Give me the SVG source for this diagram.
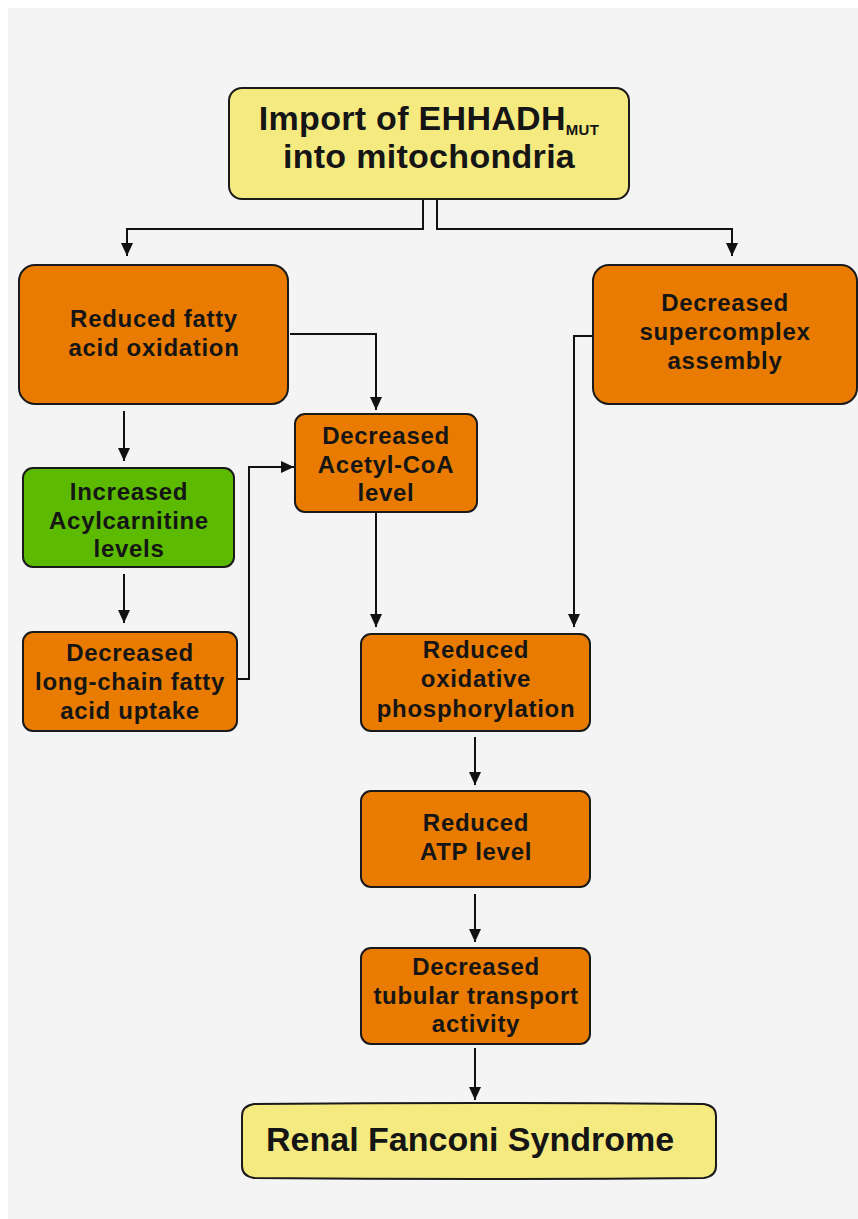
<svg xmlns="http://www.w3.org/2000/svg" width="858" height="1219" viewBox="0 0 858 1219">
<defs>
<marker id="ah" markerUnits="userSpaceOnUse" markerWidth="14" markerHeight="12" refX="13" refY="6" orient="auto">
<path d="M0,0 L13,6 L0,12 z" fill="#111"/>
</marker>
<style>
.bx{stroke:#1a1a1a;stroke-width:2}
.or{fill:#e97c00}
.gr{fill:#5cba00}
.ye{fill:#f5ea80}
.t{font-family:"Liberation Sans",Arial,sans-serif;font-weight:bold;fill:#151515;text-anchor:middle}
.m{font-size:24px;letter-spacing:0.7px}
.c{fill:none;stroke:#111;stroke-width:2}
</style>
</defs>
<rect width="858" height="1219" fill="#ffffff"/>
<rect x="8" y="8" width="850" height="1211" fill="#f4f4f4"/>

<g id="connectors">
<path class="c" d="M423,199 V229 H127 V256" marker-end="url(#ah)"/>
<path class="c" d="M437,199 V229 H732 V256" marker-end="url(#ah)"/>
<path class="c" d="M124,411 V461" marker-end="url(#ah)"/>
<path class="c" d="M290,334 H376 V410" marker-end="url(#ah)"/>
<path class="c" d="M124,574 V623" marker-end="url(#ah)"/>
<path class="c" d="M237,679 H249 V467 H294" marker-end="url(#ah)"/>
<path class="c" d="M376,512 V627" marker-end="url(#ah)"/>
<path class="c" d="M593,336 H574 V627" marker-end="url(#ah)"/>
<path class="c" d="M475,737 V785" marker-end="url(#ah)"/>
<path class="c" d="M475,894 V942" marker-end="url(#ah)"/>
<path class="c" d="M475,1048 V1100" marker-end="url(#ah)"/>
</g>

<g id="import">
<rect class="bx ye" x="229" y="88" width="400" height="111" rx="13"/>
<text class="t" x="429" y="130" font-size="34" letter-spacing="0.3"><tspan>Import of EHHADH</tspan><tspan font-size="15" dy="5">MUT</tspan></text>
<text class="t" x="429" y="168" font-size="34" letter-spacing="0.3">into mitochondria</text>
</g>

<g id="fatty">
<rect class="bx or" x="19" y="265" width="269" height="139" rx="16"/>
<text class="t m" x="154" y="327">Reduced fatty</text>
<text class="t m" x="154" y="356">acid oxidation</text>
</g>

<g id="supercomplex">
<rect class="bx or" x="593" y="265" width="264" height="139" rx="16"/>
<text class="t m" x="725" y="311">Decreased</text>
<text class="t m" x="725" y="340">supercomplex</text>
<text class="t m" x="725" y="369">assembly</text>
</g>

<g id="acetyl">
<rect class="bx or" x="295" y="414" width="182" height="98" rx="10"/>
<text class="t m" x="386" y="444">Decreased</text>
<text class="t m" x="386" y="473">Acetyl-CoA</text>
<text class="t m" x="386" y="501">level</text>
</g>

<g id="acylcarnitine">
<rect class="bx gr" x="23" y="468" width="211" height="99" rx="10"/>
<text class="t m" x="129" y="500">Increased</text>
<text class="t m" x="129" y="529">Acylcarnitine</text>
<text class="t m" x="129" y="557">levels</text>
</g>

<g id="uptake">
<rect class="bx or" x="23" y="632" width="214" height="99" rx="10"/>
<text class="t m" x="130" y="661">Decreased</text>
<text class="t m" x="130" y="690">long-chain fatty</text>
<text class="t m" x="130" y="719">acid uptake</text>
</g>

<g id="oxphos">
<rect class="bx or" x="361" y="634" width="229" height="97" rx="10"/>
<text class="t m" x="476" y="658">Reduced</text>
<text class="t m" x="476" y="687">oxidative</text>
<text class="t m" x="476" y="717">phosphorylation</text>
</g>

<g id="atp">
<rect class="bx or" x="361" y="791" width="229" height="96" rx="10"/>
<text class="t m" x="476" y="831">Reduced</text>
<text class="t m" x="476" y="860">ATP level</text>
</g>

<g id="tubular">
<rect class="bx or" x="361" y="948" width="229" height="96" rx="10"/>
<text class="t m" x="476" y="975">Decreased</text>
<text class="t m" x="476" y="1004">tubular transport</text>
<text class="t m" x="476" y="1032">activity</text>
</g>

<g id="fanconi">
<path class="bx ye" d="M254,1104 Q479,1102 704,1104 Q716,1106 716,1116 L716,1166 Q716,1176 704,1178 Q479,1180 254,1178 Q242,1176 242,1166 L242,1116 Q242,1106 254,1104 Z"/>
<text class="t" x="266" y="1151" font-size="34" style="text-anchor:start">Renal Fanconi Syndrome</text>
</g>
</svg>
